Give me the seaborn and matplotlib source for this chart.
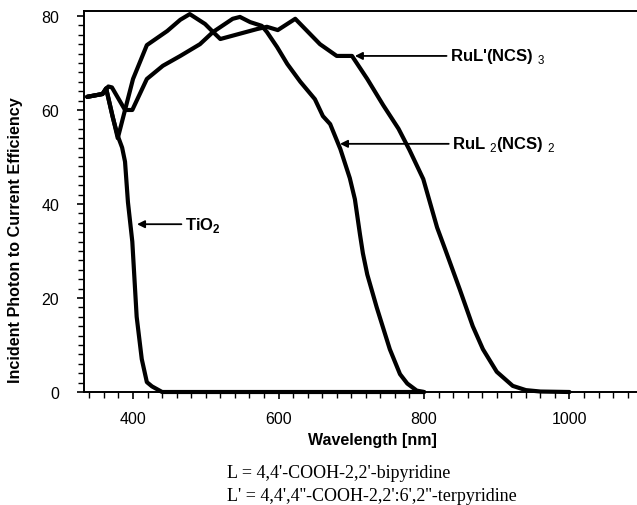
import matplotlib
matplotlib.use("Agg")
import matplotlib.pyplot as plt
from matplotlib.ticker import MultipleLocator
import seaborn as sns
import pandas as pd

# ---- data ----
wl_tio2 = [337, 358, 363, 372, 379, 385, 389, 393, 399, 405, 412, 419, 426, 433, 440, 500, 600, 700, 800]
ipce_tio2 = [62.8, 63.4, 64.6, 58.5, 54.5, 52.0, 49.0, 40.4, 32.0, 16.0, 7.0, 2.1, 1.2, 0.6, 0.0, 0.0, 0.0, 0.0, 0.0]

wl_rul3 = [337, 358, 363, 379, 400, 419, 447, 465, 478, 499, 510, 520, 570, 584, 599, 623, 657, 680, 701,
           722, 744, 765, 780, 799, 806, 818, 829, 849, 867, 881, 900, 922, 940, 960, 1000]
ipce_rul3 = [62.8, 63.4, 64.6, 54.0, 66.6, 73.8, 76.8, 79.2, 80.4, 78.3, 76.6, 75.1, 77.2, 77.7, 77.0, 79.4, 74.0, 71.5, 71.5,
             66.6, 61.0, 56.0, 51.5, 45.3, 41.5, 35.0, 30.4, 21.9, 14.0, 9.1, 4.3, 1.3, 0.4, 0.1, 0.0]

wl_rul2 = [337, 358, 366, 371, 389, 399, 419, 441, 465, 492, 510, 537, 547, 561, 577, 584, 598, 612, 630, 650,
           661, 671, 685, 698, 705, 712, 716, 722, 735, 753, 767, 777, 790, 800]
ipce_rul2 = [62.8, 63.4, 65.0, 64.8, 60.0, 60.0, 66.6, 69.4, 71.5, 74.0, 76.6, 79.4, 79.8, 78.7, 77.9, 76.6, 73.4, 69.8, 66.0, 62.3,
             58.7, 57.0, 51.7, 45.5, 41.0, 33.5, 29.5, 25.0, 18.0, 9.1, 3.8, 1.8, 0.3, 0.0]

x_ticks = [400, 600, 800, 1000]
y_ticks = [0, 20, 40, 60, 80]

sns.set_style("ticks")
plt.rcParams['font.family'] = ['Liberation Sans', 'DejaVu Sans']
plt.rcParams['mathtext.fontset'] = 'custom'
plt.rcParams['mathtext.rm'] = 'Liberation Sans'
plt.rcParams['mathtext.bf'] = 'Liberation Sans:bold'
for k in ['text.color', 'axes.labelcolor', 'xtick.color', 'ytick.color', 'axes.edgecolor']:
    plt.rcParams[k] = 'black'

fig = plt.figure(figsize=(6.37, 5.06), dpi=100)
ax = fig.add_axes([84/637, 1 - 393/506, 1 - 84/637, (393 - 12)/506])

series = [(wl_tio2, ipce_tio2), (wl_rul3, ipce_rul3), (wl_rul2, ipce_rul2)]
for wl, val in series:
    df = pd.DataFrame({"wl": wl, "ipce": val})
    sns.lineplot(data=df, x="wl", y="ipce", ax=ax, color="black", linewidth=3.0,
                 estimator=None, sort=False, clip_on=False)

ax.set_xlim(332.6, 1092.8)
ax.set_ylim(0, 81.06)
ax.set_xticks(x_ticks)
ax.set_yticks(y_ticks)
ax.xaxis.set_minor_locator(MultipleLocator(20))
ax.yaxis.set_minor_locator(MultipleLocator(2))
ax.tick_params(axis='both', which='major', direction='out', length=5, width=1.2, colors='black', labelsize=11.5)
ax.tick_params(axis='both', which='minor', direction='out', length=4, width=1.0, colors='black')
ax.tick_params(axis='x', which='major', pad=9)
ax.tick_params(axis='y', which='major', pad=13)
ax.tick_params(top=False, right=False, which='both')

for s in ['left', 'bottom', 'top']:
    ax.spines[s].set_visible(True)
    ax.spines[s].set_linewidth(1.4)
    ax.spines[s].set_color('black')
ax.spines['right'].set_visible(False)

ax.set_xlabel("Wavelength [nm]", fontsize=11.5, fontweight='bold', color='black')
ax.set_ylabel("Incident Photon to Current Efficiency", fontsize=11.6, fontweight='bold', color='black')
ax.xaxis.set_label_coords((372 - 84)/553, -(441 - 393)/381, transform=ax.transAxes)
ax.xaxis.label.set_va('center')
ax.yaxis.set_label_coords((16 - 84)/553, (393 - 240)/381, transform=ax.transAxes)
ax.yaxis.label.set_va('center')

arrow = dict(arrowstyle='-|>', color='black', lw=1.3, mutation_scale=11, shrinkA=0, shrinkB=0)
ax.annotate("TiO$_\\mathbf{2}$", xy=(405.5, 35.7), xytext=(471.0, 35.7), fontsize=12,
            fontweight='bold', ha='left', va='center', arrowprops=arrow, color='black')
ax.annotate("RuL'(NCS) $_{3}$", xy=(705, 71.5), xytext=(835.5, 71.5), fontsize=12,
            fontweight='bold', ha='left', va='center', arrowprops=arrow, color='black')
ax.annotate("RuL $_{2}$(NCS) $_{2}$", xy=(684.5, 52.8), xytext=(838.5, 52.8), fontsize=12,
            fontweight='bold', ha='left', va='center', arrowprops=arrow, color='black')

fig.text(227/637, 1 - 473/506, "L = 4,4'-COOH-2,2'-bipyridine", family='Liberation Serif',
         fontsize=13, ha='left', va='center', color='black')
fig.text(227/637, 1 - 497/506, "L' = 4,4',4''-COOH-2,2':6',2''-terpyridine", family='Liberation Serif',
         fontsize=13, ha='left', va='center', color='black')

fig.savefig("out.png", dpi=100)
